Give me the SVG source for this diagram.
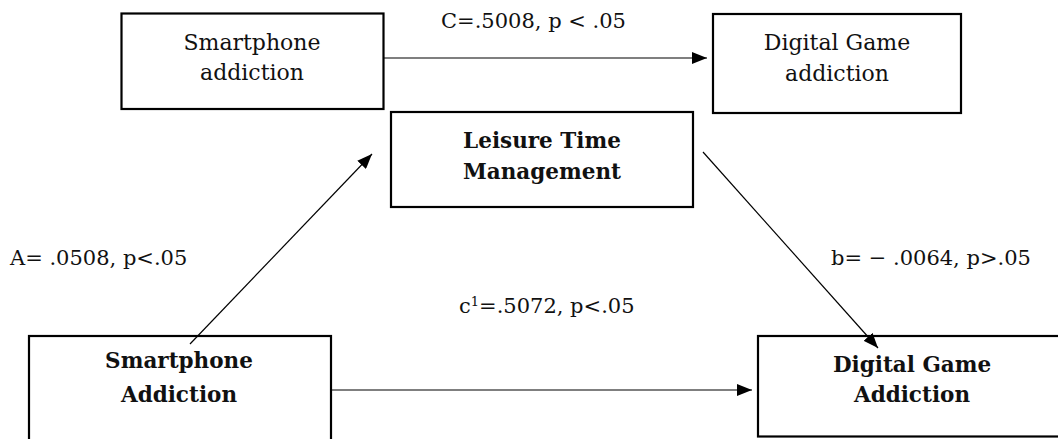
<svg xmlns="http://www.w3.org/2000/svg" width="1058" height="439" viewBox="0 0 1058 439">
<defs>
<style>
.box{fill:#fff;stroke:#000;stroke-width:2.2}
.t{font-family:"DejaVu Serif","Liberation Serif",serif;font-size:21px;fill:#111}
.n{font-size:22px}
.b{font-weight:bold;font-size:21.5px}
.c{text-anchor:middle}
.ln{stroke:#000;stroke-width:1.2;fill:none}
</style>
<marker id="ah" markerUnits="userSpaceOnUse" markerWidth="16" markerHeight="12" refX="15" refY="6" orient="auto">
<path d="M0,0 L15,6 L0,12 z" fill="#000"/>
</marker>
</defs>
<rect width="1058" height="439" fill="#fff"/>
<g id="node-smartphone-top">
<rect class="box" x="121.5" y="13.5" width="262" height="95.5"/>
<text class="t n c" x="252" y="50">Smartphone</text>
<text class="t n c" x="252" y="80">addiction</text>
</g>
<g id="node-digital-top">
<rect class="box" x="713" y="14" width="248" height="99"/>
<text class="t n c" x="837" y="50">Digital Game</text>
<text class="t n c" x="837" y="81">addiction</text>
</g>
<g id="node-leisure">
<rect class="box" x="391" y="112" width="302" height="95"/>
<text class="t b c" x="542" y="148">Leisure Time</text>
<text class="t b c" x="542" y="179">Management</text>
</g>
<g id="node-smartphone-bottom">
<rect class="box" x="29" y="336" width="302" height="120"/>
<text class="t b c" x="179" y="368">Smartphone</text>
<text class="t b c" x="179" y="402">Addiction</text>
</g>
<g id="node-digital-bottom">
<rect class="box" x="758" y="336" width="320" height="100.5"/>
<text class="t b c" x="912" y="372">Digital Game</text>
<text class="t b c" x="912" y="402">Addiction</text>
</g>
<g id="connectors">
<line class="ln" x1="384" y1="58" x2="707" y2="58" marker-end="url(#ah)"/>
<line class="ln" x1="190" y1="344" x2="372" y2="154" marker-end="url(#ah)"/>
<line class="ln" x1="703" y1="152" x2="878" y2="348" marker-end="url(#ah)"/>
<line class="ln" x1="332" y1="390" x2="752" y2="390" marker-end="url(#ah)"/>
</g>
<g id="labels">
<text class="t" x="441" y="28">C=.5008, p &lt; .05</text>
<text class="t" x="10" y="265">A= .0508, p&lt;.05</text>
<text class="t" x="831" y="265">b= − .0064, p&gt;.05</text>
<text class="t" x="459" y="313">c<tspan font-size="13" dy="-7">1</tspan><tspan dy="7">=.5072, p&lt;.05</tspan></text>
</g>
</svg>
